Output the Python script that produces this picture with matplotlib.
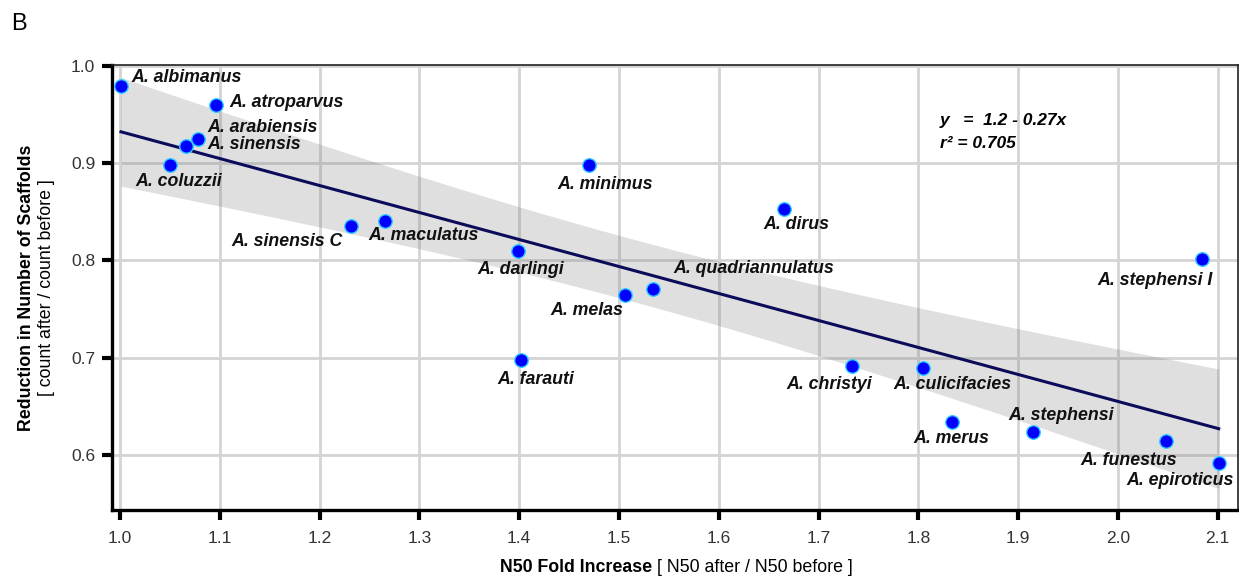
import numpy as np
import matplotlib
matplotlib.use("Agg")
import matplotlib.pyplot as plt

species = ["A. albimanus", "A. atroparvus", "A. arabiensis", "A. sinensis", "A. coluzzii",
           "A. sinensis C", "A. maculatus", "A. darlingi", "A. minimus", "A. farauti",
           "A. melas", "A. quadriannulatus", "A. dirus", "A. christyi", "A. culicifacies",
           "A. merus", "A. stephensi", "A. funestus", "A. epiroticus", "A. stephensi I"]
n50_fold = [1.001, 1.096, 1.078, 1.066, 1.050,
            1.231, 1.266, 1.399, 1.470, 1.402,
            1.506, 1.534, 1.665, 1.734, 1.805,
            1.834, 1.915, 2.048, 2.101, 2.084]
scaf_red = [0.979, 0.960, 0.925, 0.918, 0.898,
            0.835, 0.841, 0.810, 0.898, 0.698,
            0.765, 0.771, 0.853, 0.691, 0.689,
            0.634, 0.624, 0.614, 0.592, 0.802]
xticks = [1.0, 1.1, 1.2, 1.3, 1.4, 1.5, 1.6, 1.7, 1.8, 1.9, 2.0, 2.1]
yticks = [0.6, 0.7, 0.8, 0.9, 1.0]

# label offsets in pixels (dx, dy) from point to label's left-centre
offsets = [(10, 9), (14, 2), (10, 11), (22, 1), (-35, -16),
           (-119, -15), (-17, -15), (-41, -19), (-32, -19), (-24, -20),
           (-75, -16), (20, 20), (-20, -16), (-66, -18), (-30, -16),
           (-39, -17), (-25, 16), (-85, -19), (-92, -18), (-104, -22)]

plt.rcParams['font.family'] = ['Liberation Sans', 'DejaVu Sans']

W, H = 1239, 579
fig = plt.figure(figsize=(W / 100, H / 100), dpi=100)
ax = fig.add_axes([112 / W, 1 - 510 / H, (1238 - 112) / W, (510 - 65) / H])

x = np.array(n50_fold)
y = np.array(scaf_red)
slope, intercept = np.polyfit(x, y, 1)
n = len(x)
xs = np.linspace(x.min(), x.max(), 200)
yhat = intercept + slope * xs
resid = y - (intercept + slope * x)
s = np.sqrt(np.sum(resid ** 2) / (n - 2))
tval = 2.101
se = s * np.sqrt(1 / n + (xs - x.mean()) ** 2 / np.sum((x - x.mean()) ** 2))

ax.set_xlim(0.992, 2.1203)
ax.set_ylim(0.5434, 1.001)
ax.set_xticks(xticks)
ax.set_yticks(yticks)
ax.set_xticklabels([f"{v:.1f}" for v in xticks])
ax.set_yticklabels([f"{v:.1f}" for v in yticks])
ax.grid(True, color='#d4d4d4', linewidth=2.0, zorder=0)
ax.set_axisbelow(True)

ax.fill_between(xs, yhat - tval * se, yhat + tval * se, color='#808080', alpha=0.25,
                linewidth=0, zorder=1)
ax.plot(xs, yhat, color='#0b0b5a', linewidth=2.2, zorder=2)
ax.scatter(x, y, s=95, color='#0000ff', edgecolors='#33ccff', linewidths=1.0, zorder=3)

for name, xi, yi, (dx, dy) in zip(species, x, y, offsets):
    ax.annotate(name, (xi, yi), xytext=(dx, dy), textcoords='offset pixels',
                ha='left', va='center', fontsize=12.8, fontweight='bold',
                fontstyle='italic', color='#111111', zorder=4)

fig.text(940 / W, 1 - 121 / H, "y   =  1.2 - 0.27x",
         fontsize=12.5, fontweight='bold', fontstyle='italic', va='center', ha='left')
fig.text(940 / W, 1 - 143 / H, "r² = 0.705",
         fontsize=12.5, fontweight='bold', fontstyle='italic', va='center', ha='left')

for side in ['left', 'bottom']:
    ax.spines[side].set_linewidth(2.4)
    ax.spines[side].set_color('black')
for side in ['top', 'right']:
    ax.spines[side].set_linewidth(1.2)
    ax.spines[side].set_color('#222222')
ax.tick_params(axis='both', which='major', length=7, width=3, color='black',
               labelsize=12.5, labelcolor='#333333', direction='out')
ax.tick_params(axis='x', pad=8)
ax.tick_params(axis='y', pad=5)

# x label: bold part + regular part
t1 = fig.text(500 / W, 1 - 568 / H, "N50 Fold Increase", fontsize=12.8, fontweight='bold',
              ha='left', va='center')
fig.canvas.draw()
bb = t1.get_window_extent()
fig.text((bb.x1 + 5) / W, 1 - 568 / H, "[ N50 after / N50 before ]", fontsize=12.8,
         ha='left', va='center')

fig.text(27 / W, 1 - 288 / H, "Reduction in Number of Scaffolds", fontsize=12.8,
         fontweight='bold', rotation=90, ha='center', va='center')
fig.text(47 / W, 1 - 288 / H, "[ count after / count before ]", fontsize=12.8,
         rotation=90, ha='center', va='center')

fig.text(11 / W, 1 - 24 / H, "B", fontsize=17, ha='left', va='center')

fig.savefig("out.png", dpi=100)
